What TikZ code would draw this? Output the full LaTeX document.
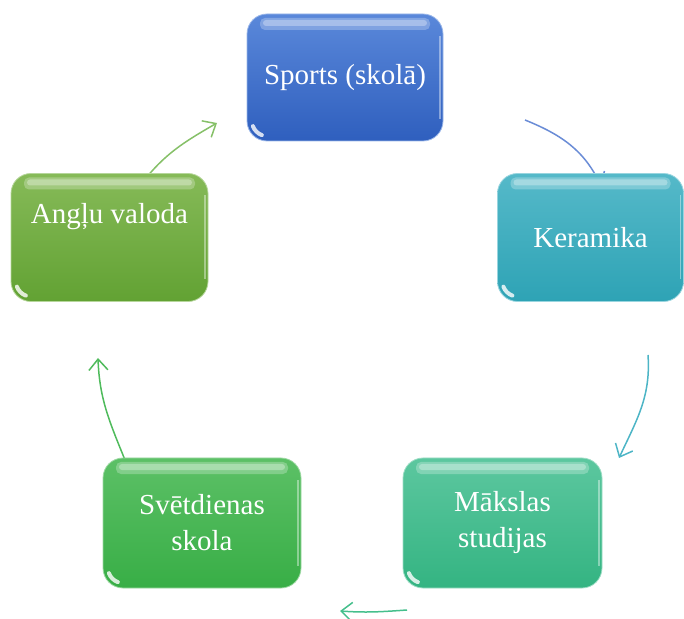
\documentclass[tikz,border=0pt]{standalone}
\usepackage{fontspec}
\setmainfont{Liberation Serif}
\usetikzlibrary{arrows.meta}
\definecolor{cAtop}{HTML}{5A88DA}\definecolor{cAbot}{HTML}{2F5FBE}
\definecolor{cBtop}{HTML}{55B9C9}\definecolor{cBbot}{HTML}{2EA3B5}
\definecolor{cCtop}{HTML}{5CC79F}\definecolor{cCbot}{HTML}{34B482}
\definecolor{cDtop}{HTML}{5CC066}\definecolor{cDbot}{HTML}{38AE46}
\definecolor{cEtop}{HTML}{86BA58}\definecolor{cEbot}{HTML}{62A233}
\definecolor{aA}{HTML}{6A8CD6}\definecolor{aB}{HTML}{4DB5C6}
\definecolor{aC}{HTML}{45BF8C}\definecolor{aD}{HTML}{4FBB5C}
\definecolor{aE}{HTML}{86C068}
\tikzset{
  glossy/.style={rounded corners=20pt, minimum width=197pt, minimum height=128pt,
    text=white, font=\fontsize{29}{36}\selectfont, align=center, inner sep=0pt,
    line width=0.8pt,
    path picture={
      \fill[white, opacity=0.25, rounded corners=5pt]
        ([xshift=13pt,yshift=-4pt]path picture bounding box.north west) rectangle
        ([xshift=-13pt,yshift=-16pt]path picture bounding box.north east);
      \fill[white, opacity=0.3, rounded corners=3pt]
        ([xshift=16pt,yshift=-6pt]path picture bounding box.north west) rectangle
        ([xshift=-16pt,yshift=-12pt]path picture bounding box.north east);
      \draw[white, opacity=0.4, line width=1.5pt]
        ([xshift=-3pt,yshift=-22pt]path picture bounding box.north east) --
        ([xshift=-3pt,yshift=22pt]path picture bounding box.south east);
      \draw[white, opacity=0.8, line width=4pt, line cap=round]
        ([xshift=20pt,yshift=20pt]path picture bounding box.south west)
        ++(200:15pt) arc[start angle=200, end angle=250, radius=15pt];
    }},
  boxtext/.style={text=white, font=\fontsize{29}{36}\selectfont, align=center, inner sep=0pt},
  cyc/.style={line width=1.5pt, -{Straight Barb[length=11pt,width=19pt,line width=1.5pt]}}
}
\begin{document}
\begin{tikzpicture}[x=1pt,y=1pt]
\useasboundingbox (0,0) rectangle (684,618);
% arrow end points
\coordinate (s1) at (525,498); \coordinate (e1) at (601,432);
\coordinate (s2) at (648,263); \coordinate (e2) at (619,160);
\coordinate (s3) at (407,8);   \coordinate (e3) at (340,7);
\coordinate (s4) at (125,158); \coordinate (e4) at (98,260);
\coordinate (s5) at (142,435); \coordinate (e5) at (217,495);
\draw[cyc, aA] (s1) to[out=-22, in=115] (e1);
\draw[cyc, aB] (s2) to[out=-86, in=65] (e2);
\draw[cyc, aC] (s3) to[out=184, in=-4] (e3);
\draw[cyc, aD] (s4) to[out=112, in=-88] (e4);
\draw[cyc, aE] (s5) to[out=52, in=210] (e5);
% boxes
\node[glossy, top color=cAtop, bottom color=cAbot, draw=cAtop!60!white, minimum width=196pt, minimum height=127pt]
  (sports) at (345,540.5) {Sports (skolā)};
\node[glossy, top color=cBtop, bottom color=cBbot, draw=cBtop!60!white, minimum width=186pt]
  (ker) at (590.5,380.5) {Keramika};
\node[glossy, top color=cCtop, bottom color=cCbot, draw=cCtop!60!white, minimum width=199pt, minimum height=130pt]
  (mak) at (502.5,95) {Mākslas\\studijas};
\node[glossy, top color=cDtop, bottom color=cDbot, draw=cDtop!60!white, minimum width=198pt, minimum height=130pt]
  (svet) at (202,95) {Svētdienas\\skola};
\node[glossy, top color=cEtop, bottom color=cEbot, draw=cEtop!60!white]
  (ang) at (109.5,380.5) {};
\node[boxtext] (angt) at ([yshift=21pt]ang.center) {Angļu valoda};
\end{tikzpicture}
\end{document}
